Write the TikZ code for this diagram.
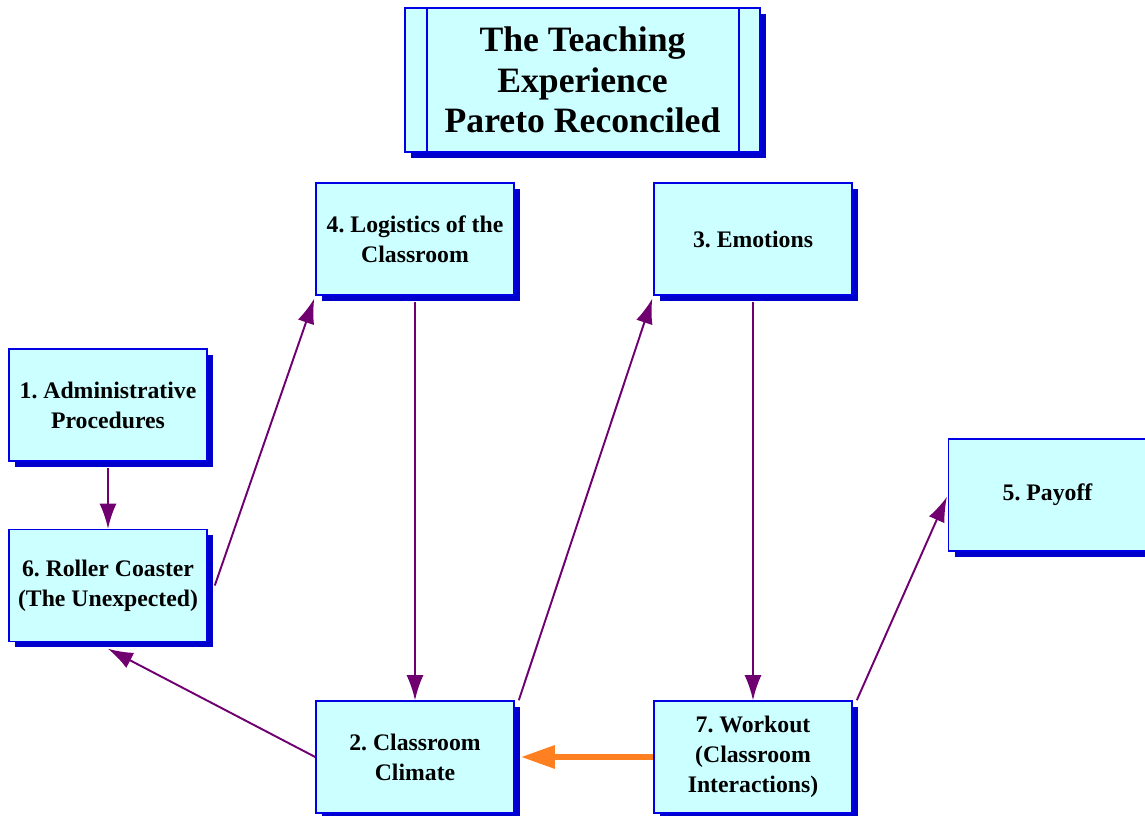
\documentclass[tikz,border=0pt]{standalone}
\usepackage{fontspec}
\setmainfont{Liberation Serif}
\usetikzlibrary{arrows.meta,shadows}
\frenchspacing
\definecolor{boxfill}{RGB}{204,255,255}
\definecolor{boxline}{RGB}{0,0,230}
\definecolor{shadowblue}{RGB}{0,0,204}
\definecolor{linkpurple}{RGB}{112,0,112}
\definecolor{linkorange}{RGB}{255,128,32}
\tikzset{
  stagebox/.style={draw=boxline, line width=0.9pt, fill=boxfill, minimum width=3.96cm, minimum height=2.24cm,
    align=center, font=\fontsize{13.5}{17}\selectfont\bfseries,
    general shadow={fill=shadowblue, shadow xshift=0.12cm, shadow yshift=-0.12cm}},
  link/.style={draw=linkpurple, line width=1.1pt, -{Latex[length=0.5cm,width=0.34cm]}},
}
\begin{document}
\begin{tikzpicture}
\useasboundingbox (0,0) rectangle (22.9,16.32);
\node[stagebox, minimum width=7.1cm, minimum height=2.88cm, font=\fontsize{20.3}{22.9}\selectfont\bfseries] (title) at (11.65,14.72) {The Teaching\\Experience\\Pareto Reconciled};
\draw[boxline, line width=0.9pt] ([xshift=0.46cm]title.north west) -- ([xshift=0.46cm]title.south west);
\draw[boxline, line width=0.9pt] ([xshift=-0.44cm]title.north east) -- ([xshift=-0.44cm]title.south east);
\node[stagebox] (logistics) at (8.3,11.54) {4. Logistics of the\\Classroom};
\node[stagebox] (emotions) at (15.06,11.54) {3. Emotions};
\node[stagebox] (admin) at (2.16,8.22) {1. Administrative\\Procedures};
\node[stagebox] (coaster) at (2.16,4.61) {6. Roller Coaster\\(The Unexpected)};
\node[stagebox] (payoff) at (20.95,6.42) {5. Payoff};
\node[stagebox] (climate) at (8.3,1.18) {2. Classroom\\Climate};
\node[stagebox] (workout) at (15.06,1.18) {7. Workout\\(Classroom\\Interactions)};
% links
\draw[link, shorten <=0.12cm] (admin.south) -- (coaster.north);
\draw[link, shorten >=0.06cm] ([xshift=0.14cm]coaster.east) -- (logistics.south west);
\draw[link, shorten <=0.12cm] (logistics.south) -- (climate.north);
\draw[link, shorten >=0.06cm] ([xshift=0.08cm]climate.north east) -- (emotions.south west);
\draw[link, shorten <=0.12cm] (emotions.south) -- (workout.north);
\draw[link, shorten >=0.04cm] ([xshift=0.08cm]workout.north east) -- (payoff.west);
\draw[link] (climate.west) -- ([yshift=-0.13cm]coaster.south);
\draw[draw=linkorange, line width=3.4pt, -{Triangle[length=0.68cm,width=0.44cm]}] (workout.west) -- ([xshift=0.12cm]climate.east);
\end{tikzpicture}
\end{document}
